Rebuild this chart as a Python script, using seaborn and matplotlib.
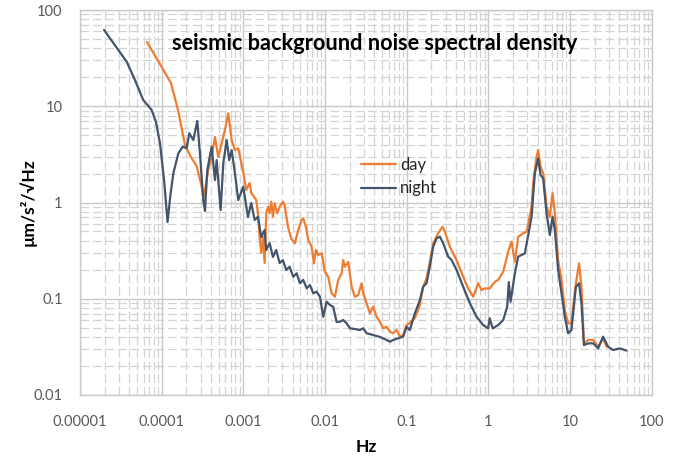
import matplotlib
matplotlib.use("Agg")
import matplotlib.pyplot as plt
import numpy as np
import pandas as pd
import seaborn as sns
from matplotlib.ticker import FixedLocator, FixedFormatter, LogLocator, NullFormatter

# ---------------- data ----------------
night_hz = [
    1.97e-5, 3.73e-5, 4.71e-5, 5.95e-5, 7.54e-5, 8.51e-5, 9.53e-5, 1.07e-4, 1.18e-4, 1.28e-4,
    1.39e-4, 1.60e-4, 1.81e-4, 2.02e-4, 2.18e-4, 2.44e-4, 2.73e-4, 2.94e-4, 3.23e-4, 3.39e-4,
    3.62e-4, 4.09e-4, 4.49e-4, 4.71e-4, 5.27e-4, 5.68e-4, 6.25e-4, 6.72e-4, 7.19e-4, 7.89e-4,
    8.66e-4, 9.97e-4, 1.139e-3, 1.25e-3, 1.375e-3, 1.509e-3, 1.656e-3, 1.823e-3, 1.907e-3, 2.099e-3,
    2.303e-3, 2.527e-3, 2.782e-3, 3.053e-3, 3.35e-3, 3.687e-3, 4.08e-3, 4.49e-3, 4.93e-3, 5.41e-3,
    5.96e-3, 6.53e-3, 7.18e-3, 7.89e-3, 8.67e-3, 9.51e-3, 1.047e-2, 1.148e-2, 1.26e-2, 1.387e-2,
    1.52e-2, 1.671e-2, 1.837e-2, 2.018e-2, 2.323e-2, 2.67e-2, 2.935e-2, 3.23e-2, 3.89e-2, 4.699e-2,
    5.675e-2, 6.229e-2, 6.836e-2, 7.87e-2, 9.06e-2, 9.97e-2, 0.109, 0.126, 0.145, 0.159,
    0.175, 0.192, 0.211, 0.232, 0.255, 0.280, 0.322, 0.355, 0.408, 0.492,
    0.594, 0.717, 0.863, 0.995, 1.04, 1.13, 1.32, 1.52, 1.70, 1.78,
    1.87, 2.11, 2.32, 2.80, 3.38, 3.71, 4.07, 4.36, 4.69, 5.16,
    5.66, 6.11, 6.52, 7.15, 7.87, 8.63, 9.48, 10.4, 11.8, 12.9,
    13.8, 14.8, 16.7, 19.2, 22.1, 25.4, 29.2, 33.7, 40.7, 49.2,
]
night_psd = [
    62.0, 29.0, 18.7, 11.6, 9.14, 6.86, 4.15, 1.71, 0.627, 1.20,
    2.01, 3.24, 3.80, 3.66, 5.24, 4.46, 7.03, 3.26, 1.06, 0.816,
    2.18, 3.80, 1.71, 2.76, 0.836, 2.55, 4.46, 2.76, 3.51, 2.01,
    1.06, 1.46, 0.707, 0.988, 0.658, 0.711, 0.438, 0.518, 0.321, 0.379,
    0.2715, 0.321, 0.235, 0.252, 0.199, 0.215, 0.169, 0.184, 0.145, 0.157,
    0.1284, 0.139, 0.114, 0.1184, 0.105, 0.065, 0.0931, 0.0861, 0.0826, 0.0573,
    0.0577, 0.0601, 0.0556, 0.0493, 0.0485, 0.0473, 0.0493, 0.0438, 0.042, 0.0401,
    0.0373, 0.0358, 0.0373, 0.0388, 0.0404, 0.0512, 0.0473, 0.0706, 0.097, 0.133,
    0.145, 0.215, 0.347, 0.425, 0.441, 0.377, 0.274, 0.252, 0.199, 0.133,
    0.0897, 0.065, 0.0533, 0.0493, 0.0627, 0.0493, 0.0533, 0.0601, 0.0826, 0.149,
    0.0931, 0.184, 0.274, 0.296, 0.711, 2.01, 2.88, 1.93, 1.78, 0.773,
    0.459, 0.711, 0.518, 0.199, 0.114, 0.065, 0.0438, 0.0473, 0.133, 0.145,
    0.0897, 0.033, 0.0344, 0.0344, 0.0305, 0.0404, 0.0318, 0.0293, 0.0305, 0.0289,
]
day_hz = [
    6.61e-5, 9.53e-5, 1.30e-4, 1.585e-4, 1.93e-4, 2.28e-4, 2.68e-4, 3.30e-4, 3.72e-4, 4.09e-4,
    4.49e-4, 4.93e-4, 5.95e-4, 6.53e-4, 7.19e-4, 7.89e-4, 8.66e-4, 9.97e-4, 1.085e-3, 1.194e-3,
    1.25e-3, 1.438e-3, 1.509e-3, 1.583e-3, 1.656e-3, 1.738e-3, 1.823e-3, 1.907e-3, 2.001e-3, 2.099e-3,
    2.195e-3, 2.303e-3, 2.416e-3, 2.60e-3, 2.782e-3, 3.053e-3, 3.203e-3, 3.515e-3, 3.879e-3, 4.281e-3,
    4.699e-3, 5.171e-3, 5.41e-3, 5.837e-3, 6.228e-3, 6.855e-3, 7.315e-3, 7.738e-3, 8.255e-3, 9.087e-3,
    9.972e-3, 1.094e-2, 1.204e-2, 1.322e-2, 1.451e-2, 1.597e-2, 1.671e-2, 1.752e-2, 1.923e-2, 2.117e-2,
    2.323e-2, 2.55e-2, 2.805e-2, 2.935e-2, 3.23e-2, 3.545e-2, 3.89e-2, 4.281e-2, 4.699e-2, 5.157e-2,
    5.675e-2, 6.229e-2, 6.836e-2, 7.522e-2, 8.255e-2, 9.061e-2, 9.972e-2, 0.109, 0.126, 0.145,
    0.159, 0.175, 0.192, 0.211, 0.243, 0.275, 0.294, 0.338, 0.408, 0.492,
    0.566, 0.652, 0.750, 0.826, 0.906, 1.04, 1.20, 1.32, 1.52, 1.75,
    1.92, 2.11, 2.32, 2.67, 2.94, 3.38, 3.53, 3.89, 4.07, 4.36,
    4.69, 5.16, 5.66, 6.11, 6.52, 7.15, 7.87, 8.63, 9.48, 10.4,
    11.8, 12.9, 13.8, 14.8, 16.7, 19.2, 22.1, 25.4, 28.0,
]
day_psd = [
    46.5, 27.5, 17.4, 9.14, 3.96, 2.97, 2.39, 1.17, 2.18, 2.97,
    4.79, 2.97, 5.66, 8.45, 4.46, 3.51, 3.66, 2.07, 1.349, 1.594,
    1.255, 1.061, 0.778, 0.441, 0.299, 0.441, 0.235, 0.778, 0.904, 0.778,
    1.019, 0.711, 0.981, 0.773, 0.904, 1.019, 0.942, 0.56, 0.418, 0.377,
    0.518, 0.658, 0.685, 0.56, 0.408, 0.347, 0.233, 0.321, 0.285, 0.296,
    0.191, 0.169, 0.114, 0.105, 0.157, 0.184, 0.252, 0.215, 0.241, 0.133,
    0.105, 0.109, 0.145, 0.114, 0.0897, 0.0706, 0.0826, 0.065, 0.0577, 0.0493,
    0.0512, 0.0455, 0.0438, 0.0473, 0.0404, 0.042, 0.0533, 0.056, 0.0631, 0.0861,
    0.1325, 0.163, 0.241, 0.377, 0.479, 0.56, 0.497, 0.347, 0.252, 0.169,
    0.128, 0.105, 0.145, 0.123, 0.128, 0.128, 0.150, 0.157, 0.191, 0.308,
    0.392, 0.243, 0.441, 0.479, 0.497, 0.904, 1.58, 2.99, 3.51, 2.35,
    2.01, 0.904, 0.711, 1.25, 0.773, 0.252, 0.157, 0.0764, 0.0556, 0.0556,
    0.145, 0.233, 0.133, 0.0344, 0.0373, 0.0373, 0.0318, 0.0388, 0.0318,
]

series_names = ["day", "night"]
series_colors = ["#ED7D31", "#44546A"]

x_ticks = [1e-5, 1e-4, 1e-3, 1e-2, 1e-1, 1, 10, 100]
x_tick_labels = ["0.00001", "0.0001", "0.001", "0.01", "0.1", "1", "10", "100"]
y_ticks = [0.01, 0.1, 1, 10, 100]
y_tick_labels = ["0.01", "0.1", "1", "10", "100"]

title_text = "seismic background noise spectral density"
x_label = "Hz"
y_label = "µm/s²/√Hz"

# ---------------- plotting ----------------
sns.set_theme(style="white")
plt.rcParams["font.family"] = ["Lato", "DejaVu Sans"]

df = pd.concat([
    pd.DataFrame({"Hz": day_hz, "psd": day_psd, "series": "day"}),
    pd.DataFrame({"Hz": night_hz, "psd": night_psd, "series": "night"}),
], ignore_index=True)

W, H = 678, 457
fig = plt.figure(figsize=(W / 100, H / 100), dpi=100)
x0, x1, y0, y1 = 80, 651.7, 10, 395
ax = fig.add_axes([x0 / W, 1 - y1 / H, (x1 - x0) / W, (y1 - y0) / H])

sns.lineplot(data=df, x="Hz", y="psd", hue="series", hue_order=series_names,
             palette=series_colors, estimator=None, sort=False, linewidth=1.6, ax=ax)

ax.set_xscale("log")
ax.set_yscale("log")
ax.set_xlim(x_ticks[0], x_ticks[-1])
ax.set_ylim(y_ticks[0], y_ticks[-1])

grid_major = "#C9C9C9"
grid_minor = "#D4D4D4"
ax.xaxis.set_major_locator(FixedLocator(x_ticks))
ax.xaxis.set_major_formatter(FixedFormatter(x_tick_labels))
ax.yaxis.set_major_locator(FixedLocator(y_ticks))
ax.yaxis.set_major_formatter(FixedFormatter(y_tick_labels))
ax.xaxis.set_minor_locator(LogLocator(base=10, subs=np.arange(2, 10), numticks=20))
ax.yaxis.set_minor_locator(LogLocator(base=10, subs=np.arange(2, 10), numticks=20))
ax.xaxis.set_minor_formatter(NullFormatter())
ax.yaxis.set_minor_formatter(NullFormatter())

ax.grid(True, which="major", color=grid_major, linewidth=1.0, linestyle="-")
ax.grid(True, which="minor", color=grid_minor, linewidth=0.9, linestyle=(0, (7, 3)))
ax.set_axisbelow(True)

for s in ax.spines.values():
    s.set_color(grid_major)
    s.set_linewidth(1.0)

ax.tick_params(which="major", direction="out", length=4, width=1, color=grid_major,
               labelcolor="#595959", labelsize=10.5)
ax.tick_params(axis="x", which="major", pad=10.5)
ax.tick_params(axis="y", which="major", pad=8.5)
ax.tick_params(which="minor", length=0)

ax.set_xlabel(x_label, fontsize=12.5, fontweight="bold", color="black", labelpad=7)
ax.set_ylabel(y_label, fontsize=12.5, fontweight="bold", color="black")
ax.yaxis.set_label_coords((37 - x0) / (x1 - x0), 0.5)

ax.text((375 - x0) / (x1 - x0), (y1 - 50) / (y1 - y0), title_text, transform=ax.transAxes,
        ha="center", va="baseline", fontsize=15.7, fontweight="bold", color="black")

handles, labels = ax.get_legend_handles_labels()
ax.legend(handles, labels, loc="upper left",
          bbox_to_anchor=((361 - x0) / (x1 - x0), (y1 - 157) / (y1 - y0)),
          frameon=False, fontsize=12, handlelength=2.1, handletextpad=0.25,
          labelspacing=0.45, borderpad=0, borderaxespad=0)

fig.savefig("out.png", dpi=100)
